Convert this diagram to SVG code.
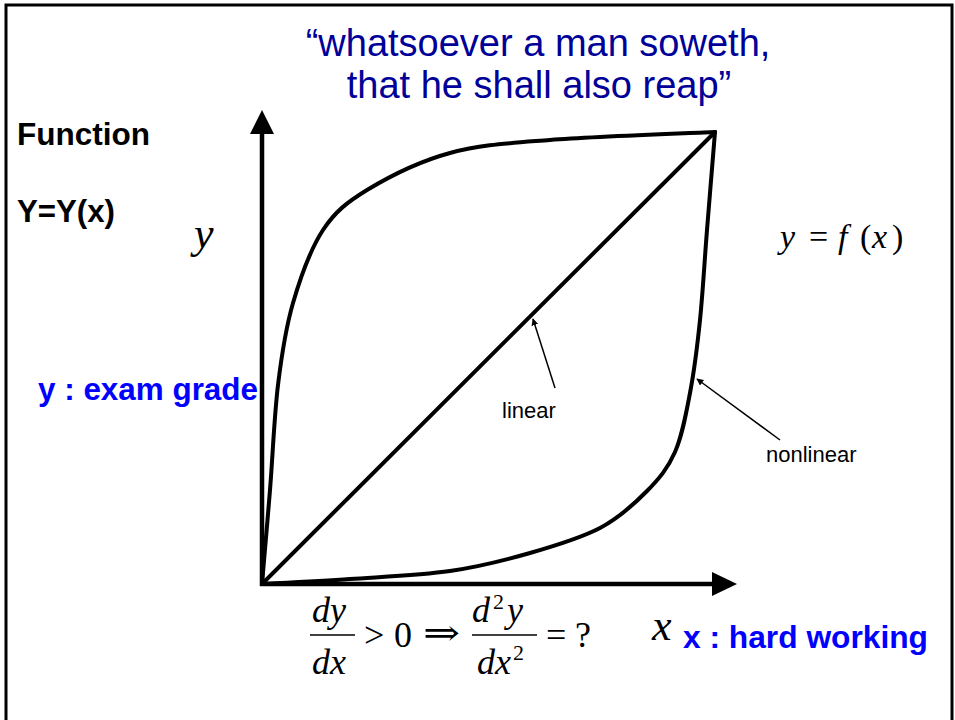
<svg xmlns="http://www.w3.org/2000/svg" width="955" height="720" viewBox="0 0 955 720">
<style>
.bold{font-family:"Liberation Sans",Arial,sans-serif;font-weight:bold;font-size:31px;fill:#000}
.blue{fill:#0000ff}
.title{font-family:"Liberation Sans",Arial,sans-serif;font-size:38px;fill:#000099;text-anchor:middle}
.lbl{font-family:"Liberation Sans",Arial,sans-serif;font-size:22px;fill:#000}
.m{font-family:"Liberation Serif","Times New Roman",serif;font-size:36px;fill:#000}
.mi{font-family:"Liberation Serif","Times New Roman",serif;font-style:italic;font-size:36px;fill:#000}
.s{font-size:34px}
.curve{fill:none;stroke:#000;stroke-width:4;stroke-linecap:round;stroke-linejoin:round}
.axis{fill:none;stroke:#000;stroke-width:4.5}
.ptr{fill:none;stroke:#000;stroke-width:1.5}
</style>
<defs>
<marker id="ah" viewBox="0 0 10 10" refX="9" refY="5" markerWidth="7" markerHeight="7" markerUnits="userSpaceOnUse" orient="auto"><path d="M0,0 L10,5 L0,10 z" fill="#000"/></marker>
</defs>
<rect x="6" y="5" width="946" height="730" fill="#fff" stroke="#000" stroke-width="3"/>
<g id="title">
<text class="title" x="538" y="56">“whatsoever a man soweth,</text>
<text class="title" x="539" y="98">that he shall also reap”</text>
</g>
<g id="function-label"><text class="bold" x="17" y="145" textLength="133" lengthAdjust="spacingAndGlyphs">Function</text></g>
<g id="yfunc-label"><text class="bold" x="17" y="222" textLength="98" lengthAdjust="spacingAndGlyphs">Y=Y(x)</text></g>
<g id="y-exam"><text class="bold blue" x="38" y="400" textLength="220" lengthAdjust="spacingAndGlyphs">y : exam grade</text></g>
<g id="x-hard"><text class="bold blue" x="683" y="648" textLength="245" lengthAdjust="spacingAndGlyphs">x : hard working</text></g>
<g id="y-axis-label"><text class="mi" x="194" y="248" style="font-size:44px">y</text></g>
<g id="x-axis-label"><text class="mi" x="652" y="640" style="font-size:44px">x</text></g>
<g id="yfx">
<text class="mi s" x="780" y="248">y</text>
<text class="m s" x="809" y="248">=</text>
<text class="mi s" x="838" y="248">f</text>
<text class="m s" x="860" y="248">(</text>
<text class="mi s" x="872" y="248">x</text>
<text class="m s" x="892" y="248">)</text>
</g>
<g id="formula">
<text class="mi" x="312" y="622">dy</text>
<line x1="310" y1="635" x2="355" y2="635" stroke="#000" stroke-width="1.6"/>
<text class="mi" x="312" y="674">dx</text>
<text class="m" x="364" y="647">&gt;</text>
<text class="m" x="394" y="647">0</text>
<text class="m" x="423" y="645" style="font-family:'DejaVu Serif','Liberation Serif',serif;font-size:36px" textLength="37" lengthAdjust="spacingAndGlyphs">⇒</text>
<text class="mi" x="472" y="622">d</text>
<text class="m" x="493" y="609" style="font-size:22px">2</text>
<text class="mi" x="507" y="622">y</text>
<line x1="472" y1="635" x2="537" y2="635" stroke="#000" stroke-width="1.6"/>
<text class="mi" x="477" y="674">dx</text>
<text class="m" x="513" y="660" style="font-size:22px">2</text>
<text class="m" x="546" y="647">=</text>
<text class="m" x="575" y="647">?</text>
</g>
<g id="axes">
<line class="axis" x1="262" y1="586" x2="262" y2="130"/>
<path d="M262,110 L250,134 L274,134 z" fill="#000"/>
<line class="axis" x1="260" y1="584" x2="714" y2="584"/>
<path d="M737,584 L712,572 L712,596 z" fill="#000"/>
</g>
<g id="curves">
<path id="upper" class="curve" d="M262,584 C263.3,568.3 267.3,523.2 270,490 C272.7,456.8 274.2,416.2 278,385 C281.8,353.8 285.5,328.8 293,303 C300.5,277.2 310.7,248.8 323,230 C335.3,211.2 347.8,201.8 367,190 C388.2,177.2 419.5,161.3 450,153 C480.5,144.7 505.8,143.5 550,140 C594.2,136.5 687.5,133.3 715,132"/>
<path id="linear" class="curve" d="M262,584 L715,132"/>
<path id="lower" class="curve" d="M262,584 C276.7,583.2 318.7,581.2 350,579 C381.3,576.8 420,575.3 450,571 C480,566.7 505,560.2 530,553 C555,545.8 580.5,538.3 600,528 C619.5,517.7 634.5,503.7 647,491 C659.5,478.3 667.8,468.3 675,452 C682.2,435.7 685.8,415 690,393 C694.2,371 697.2,347.2 700,320 C702.8,292.8 704.5,261.3 707,230 C709.5,198.7 713.7,148.3 715,132"/>
</g>
<g id="connectors">
<line class="ptr" x1="555" y1="388" x2="533" y2="319" marker-end="url(#ah)"/>
<line class="ptr" x1="780" y1="440" x2="697" y2="379" marker-end="url(#ah)"/>
</g>
<g id="linear-label"><text class="lbl" x="502" y="418">linear</text></g>
<g id="nonlinear-label"><text class="lbl" x="766" y="462">nonlinear</text></g>
</svg>
